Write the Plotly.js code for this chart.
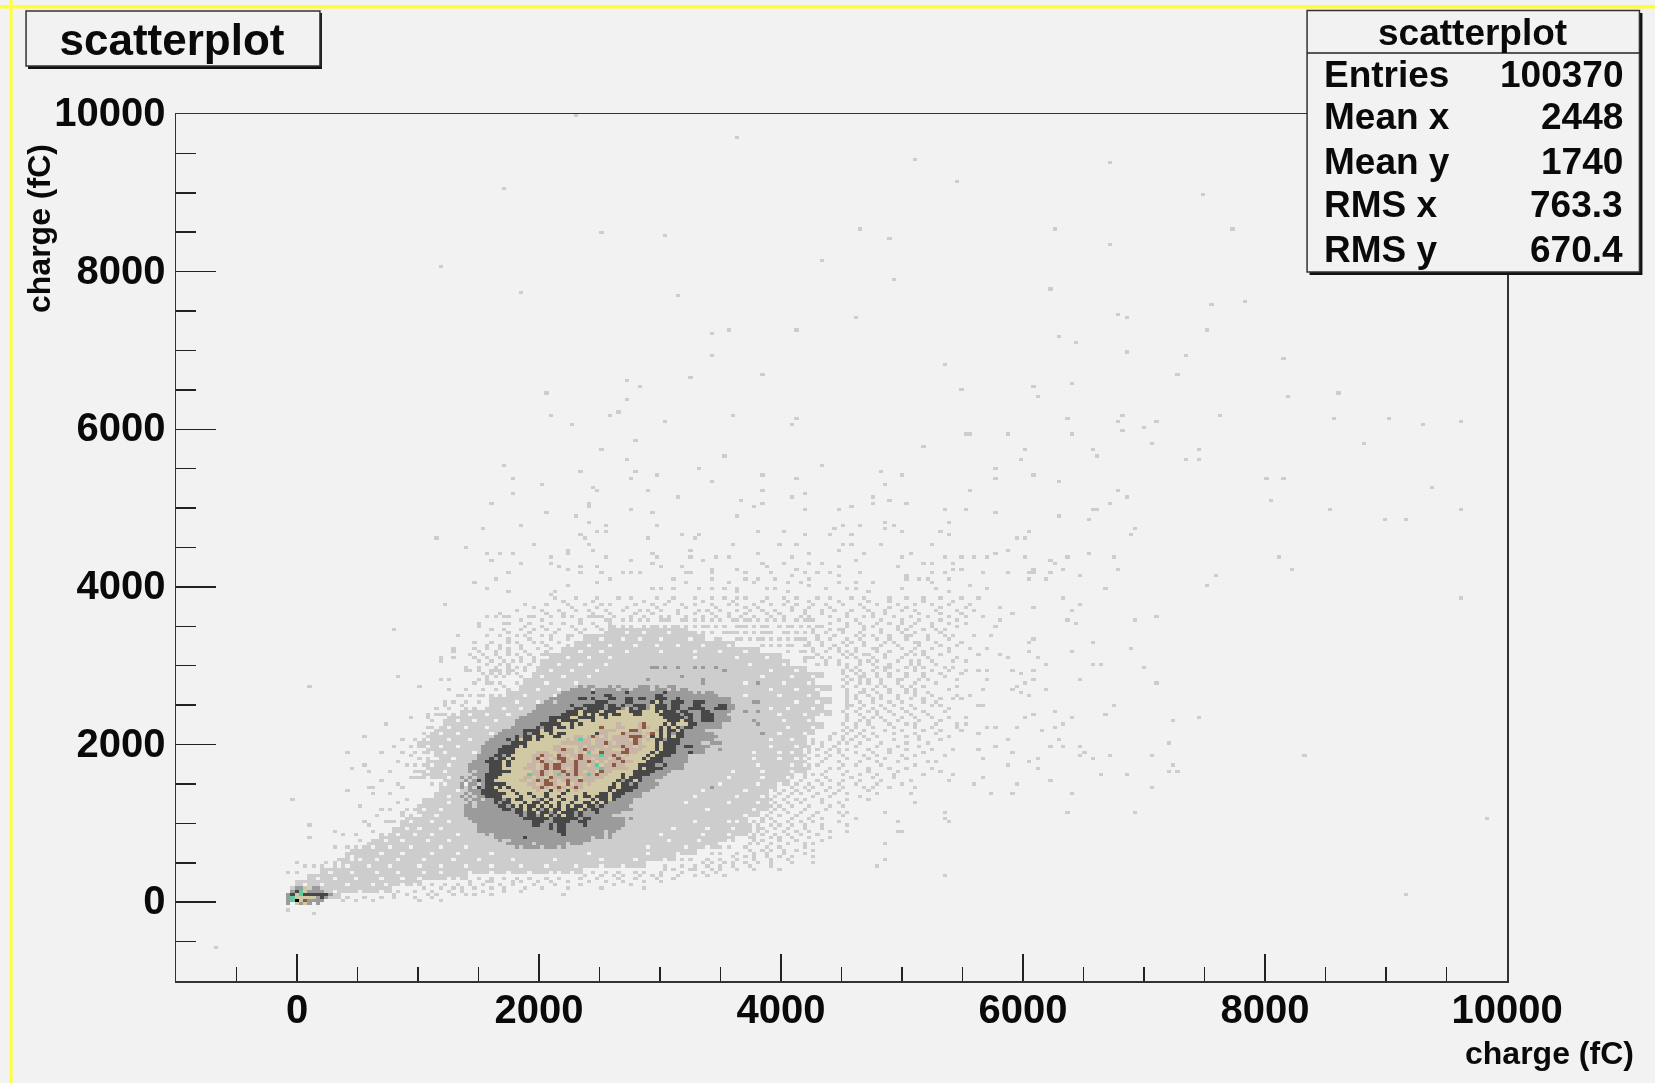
<!DOCTYPE html>
<html>
<head>
<meta charset="utf-8">
<script src="https://cdn.plot.ly/plotly-3.0.1.min.js"></script>
<style>html,body{margin:0;padding:0;background:#f2f2f2}#c{width:1655px;height:1083px;filter:blur(0.5px)}</style>
</head>
<body>
<div id="c"></div>
<script>
// ---- text ----
const chartTitle = 'scatterplot';
const axisTitle = 'charge (fC)';
const statLabels = ['Entries', 'Mean x', 'Mean y', 'RMS x', 'RMS y'];
const statValues = ['100370', '2448', '1740', '763.3', '670.4'];
const levelColors = ['rgba(0,0,0,0)', '#cdcdcd', '#9b9b9b', '#474747', '#d0c9a3', '#c9b5a6', '#8e5a47', '#5fc9a2', '#000000'];

// ---- solid body of the lightest band: [y, xLeft, xRight] ----
const lightRows = [
[40,-70,340],[120,-55,770],[200,10,1015],[280,110,1400],[360,220,2340],[440,380,2850],[520,470,3100],[600,490,3300],
[680,576,3450],[760,690,3600],[840,800,3690],[920,880,3750],[1000,910,3690],[1080,1000,3800],[1160,1020,3880],[1240,1060,3880],
[1320,1150,3880],[1400,1200,3950],[1480,1210,4050],[1560,1044,4100],[1640,1070,4150],[1720,1070,4155],[1800,1150,4155],[1880,1070,4170],
[1960,1044,4200],[2040,1070,4210],[2120,1150,4260],[2200,1210,4350],[2280,1265,4280],[2360,1350,4400],[2440,1620,4330],[2520,1650,4420],
[2600,1730,4300],[2680,1840,4400],[2760,1900,4280],[2840,1950,4350],[2920,1990,4200],[3000,2035,4050],[3080,2100,3980],[3160,2200,3800],
[3240,2290,3600],[3320,2370,3350],[3400,2600,3200]
];

// ---- empty cells inside the light band: [y, [x...]] ----
const lightHoles = [
[3400,[2720,2880,3090]],[3320,[2520,2690,2840,3010,3240]],[3240,[2420,2600,2780,2960,3150,3340,3560]],
[3160,[2330,2510,2730,3000,3290,3490,3700]],[3080,[2230,2400,2590,3300,3620,3880]],[3000,[2170,2340,2560,3750,4010]],
[2920,[2100,2270,2480,3900,4120]],[2840,[2040,2190,2400,3850,4100,4280]],
[2780,[2050,2310,3700,4020,4220]],[2700,[2000,2180,3900,4130,4290]],[2620,[1900,2120,3690,4000,4220]],
[2540,[1800,1980,3760,4120,4310]],[2460,[1700,1860,3900,4060,4250]],[2380,[1420,1580,1750,3990,4180,4350]],
[2300,[1320,1480,1650,4020,4230]],[2220,[1260,1400,1560,4050,4280]],[2140,[1200,1330,1620,3980,4200]],
[2060,[1090,1250,1420,3900,4080]],[1980,[1090,1190,1340,3930,4130]],[1900,[1100,1230,1450,3780,4000,4100]],
[1820,[1160,1290,3780,3990,4120]],[1740,[1110,1260,3800,4090]],[1660,[1090,1220,3600,3850,4090]],[1580,[1080,1250,3550,3850,4060]],
[1500,[1230,1380,3500,3800,3980]],[1420,[1310,3340,3700,3900]],[1340,[1260,3300,3650,3830]],[1260,[1260,3200,3560,3820]],
[1180,[1030,1200,3400,3770]],[1100,[1020,1160,3700]],[1020,[950,1100,1260,3300,3550,3640]],[940,[900,1020,1180,3100,3380,3600]],
[860,[820,960,1130,1320,3000,3350,3580]],[780,[720,880,1070,1260,3080,3330,3560]],[700,[610,770,940,1180,1400,2900,3200,3400]],
[620,[520,700,880,1120,1340,1620,2420,2900,3150]],[540,[520,660,830,1060,1300,1510,1780,2130,2500,2800,3040]],
[460,[430,590,780,1000,1180,1380,1620,1840,2050,2290,2520,2700]],[380,[280,440,660,840,1040,1200,1430,1600,1750,1930,2090,2180,2280]],
[300,[170,320,500,710,880,1020,1240,1310]],[220,[60,200,430,620,740,880,960]],[140,[40,180,310,520,690]]
];

// ---- dense speckle around the light band: [y, [x...]] ----
const lightSpeckle = [
[3860,[2120,2310,2490,2640,2770,2960,3110,3290,3410,3530,3640,3720,3890,4010,4110,4300,4420,4570,4700,4880,5020,5160,5320,5500,5640]],
[3780,[1900,2060,2240,2380,2510,2600,2790,2930,3040,3170,3280,3430,3560,3650,3790,3900,4030,4140,4280,4360,4520,4650,4800,4950,5090,5230,5390,5570]],
[3700,[1830,2010,2170,2320,2400,2560,2690,2820,2900,3020,3150,3310,3390,3500,3620,3740,3850,3960,4080,4190,4320,4450,4590,4710,4860,5000,5100,5280,5460,5610]],
[3620,[1750,1950,2110,2280,2420,2500,2630,2750,2860,3000,3090,3220,3340,3470,3580,3660,3790,3920,4020,4150,4240,4410,4530,4680,4770,4940,5060,5210,5370,5520]],
[3600,[1570,1720,1910,2080,2210,2260,2430,2490]],
[3560,[2600,2750,2830,3020,3080,3220,3370,3500,3590,3700,3800,3960,4120,4230]],
[3550,[4420,4560,4640,4780,4900,5010,5100,5230,5400,5520]],
[3520,[1500,1700,1760,1930,2100,2200,2340,2450,2580]],
[3480,[2580,2690,2880,2980,3040,3150,3290,3400,3450,3620,3760,3880,4040,4160,4300]],
[3470,[4250,4400,4480,4520,4700,4830,4950,5020,5180,5290,5350]],
[3440,[1620,1700,1850,1960,2050,2170,2310,2390,2510]],
[3400,[3240,3350,3520,3600,3700,3840,3920,4070,4190]],
[3390,[4300,4450,4610,4670,4750,4880,5020,5060,5210,5340,5410,5600]],
[3360,[1320,1560,1680,1800,1880,2020,2110,2220,2280,2480,2570]],
[3320,[3470,3630,3740,3860,3990,4120,4210]],
[3310,[4220,4330,4500,4580,4700,4860,4930,5110,5150,5280,5480]],
[3280,[1470,1620,1730,1810,1950,2030,2160]],
[3240,[3830,3920,4040,4180]],
[3230,[4260,4400,4470,4620,4760,4800,5000,5090,5240,5400,5560]],
[3200,[1280,1460,1570,1680,1760,1860,2000,2100]],
[3160,[4050,4150]],
[3150,[4300,4520,4590,4680,4720,4870,5030,5120,5190,5330]],
[3120,[1430,1530,1640,1750,1800,1910,2010,2060]],
[3080,[4240]],
[3070,[4200,4380,4460,4640,4710,4800,4950,5080,5140,5250,5420,5530]],
[3040,[1180,1500,1620,1700,1790,1850,1950]],
[2990,[4560,4620,4800,4870,4910,5020,5110,5190,5340,5410]],
[2960,[1390,1510,1640,1740,1830,1900]],
[2910,[4520,4610,4700,4780,4910,5050,5190,5300,5480]],
[2880,[1530,1600,1660,1760,1800]],
[2830,[4520,4580,4650,4710,4840,4950,5000,5130,5210,5450]],
[2750,[4520,4610,4780,4860,5010,5060,5160,5440]],
[2670,[4530,4640,4680,4790,4900,5020,5090,5220]],
[2590,[4540,4600,4740,4830,4950,5060,5170,5330,5420]],
[2510,[4530,4590,4680,4810,4920,5070,5240,5320]],
[2430,[4520,4610,4720,4790,4880,5020,5190,5340]],
[2350,[4530,4680,4750,4840,5010,5110,5260,5390,5520]],
[2270,[4520,4610,4730,4890,5040,5100,5270,5440,5530]],
[2190,[4500,4580,4700,4850,5000,5170,5310,5500]],
[2110,[4410,4520,4610,4680,4790,5050,5150,5380]],
[2030,[4250,4330,4470,4560,4640,4840,5020,5210]],
[1950,[4230,4300,4400,4470,4530,4720,4890,5040,5250,5420]],
[1870,[4200,4290,4420,4500,4680,4800,4990,5120,5360]],
[1790,[4200,4340,4480,4660,4780,4950,5200,5280]],
[1710,[4180,4240,4400,4470,4720,4890,5020,5240]],
[1630,[4180,4260,4320,4500,4650,4790,4940,5180,5420]],
[1550,[4150,4300,4420,4510,4660,4830,5080,5380]],
[1470,[4100,4180,4260,4390,4520,4690,4880,5090]],
[1390,[4000,4090,4170,4310,4450,4560,4780,5060]],
[1310,[3930,4020,4110,4200,4340,4530,4730]],
[1230,[3920,3990,4090,4240,4390,4510]],
[1150,[3920,4060,4150,4300,4470,4560,4870]],
[1070,[3840,3930,4080,4230,4350,4600]],
[990,[3730,3800,3900,3980,4090,4200,4320,4560]],
[910,[3730,3820,3880,4010,4110,4240,4420,4560]],
[830,[3730,3790,3900,4000,4100,4230,4390]],
[750,[3730,3800,3910,4060,4180,4280]],
[670,[3730,3830,3920,4030,4140,4250]],
[590,[3600,3700,3790,3870,3990,4090,4250]],
[510,[3340,3440,3520,3600,3690,3800,3930,4100,4250]],
[430,[3030,3120,3240,3300,3420,3510,3620,3780,3980]],
[350,[2380,2500,2610,2700,2820,2930,3020,3130,3270,3400,3540]],
[270,[1440,1560,1620,1780,1850,1990,2110,2230,2400,2560,2700,2850,3010]],
[190,[1050,1180,1290,1370,1480,1590,1720,1880,2040,2220,2500,2880]],
[110,[800,920,1080,1160,1300,1410,1480,1620,2200]],
[30,[390,480,640,1000,1200]]
];

// ---- the speckle rows that lie between the rows above: [y, [x...]] ----
const lightSpeckleBetween = [
[3820,[2210,2440,2850,3090,3370,3600,3830,4070,4240,4490,4730,4910,5170,5410]],
[3740,[1950,2280,2470,2740,2970,3210,3460,3690,3810,4100,4230,4410,4680,4890,5050,5330,5520]],
[3660,[1680,2060,2210,2440,2580,2790,2940,3130,3270,3420,3550,3720,3880,4000,4200,4330,4560,4740,4850,5130,5300,5480]],
[3580,[1840,2020,2340,2560,2700,2910,3050,3180,3300,3440,3640,3750,3890,4010,4190,4280,4470,4610,4820,4990,5150,5320,5460]],
[3500,[1880,2040,2260,2490,2630,2770,2930,3100,3220,3340,3530,3660,3710,3840,3980,4090,4220,4350,4540,4670,4760,4970,5060,5250,5450]],
[3420,[1760,1930,2140,2350,2540,2670,3280,3420,3570,3650,3760,3890,4010,4110,4260,4360,4500,4640,4830,4990,5120,5300]],
[3340,[1750,1920,2090,2240,3510,3680,3800,3930,4050,4160,4290,4420,4540,4650,4790,4900,5050,5200,5370]],
[3260,[1570,1680,1860,2060,2220,3830,3990,4090,4230,4340,4430,4560,4690,4840,4960,5130,5310,5450]],
[3180,[1500,1630,1730,1900,2050,4040,4200,4270,4380,4460,4550,4630,4780,4910,5080,5160,5380]],
[3100,[1480,1580,1690,1850,1960,4200,4250,4340,4420,4530,4610,4760,4850,5000,5210,5440]],
[3020,[1560,1680,1760,1920,4300,4380,4480,4540,4660,4750,4890,5060,5140,5290]],
[2940,[1440,1590,1690,1780,1880,4520,4570,4660,4740,4860,4980,5120,5260,5400]],
[2860,[1560,1630,1720,1850,4540,4640,4690,4800,4880,5030,5160,5350]],
[2780,[1480,1580,1680,1800,4550,4650,4730,4810,4960,5100,5270]],
[2700,[1400,1530,1640,1760,4560,4680,4750,4900,5040,5120,5380]],
[2620,[1370,1520,1600,1690,4540,4620,4710,4820,4980,5100,5240,5470]],
[2540,[1290,1400,1510,1590,4530,4660,4770,4890,5000,5190,5290]],
[2460,[1240,1380,1470,1570,4540,4640,4750,4850,4990,5120,5400]],
[2380,[1190,1290,4550,4660,4780,4930,5070,5220]],
[2300,[1130,1210,4540,4640,4710,4850,4970,5150,5300]],
[2220,[1080,1180,4530,4620,4760,4920,5090,5240,5450]],
[2140,[1040,1100,4440,4540,4640,4740,4930,5100,5280]],
[2060,[960,1030,4270,4400,4500,4590,4720,4920,5130,5300]],
[1980,[930,1000,4240,4350,4430,4600,4780,4950,5140]],
[1900,[970,1030,4220,4370,4460,4610,4750,4910,5180]],
[1820,[1010,1080,4240,4380,4540,4720,4860,5050]],
[1740,[990,1040,4220,4310,4510,4600,4830,5100]],
[1660,[960,1030,4210,4380,4540,4710,4980,5310]],
[1580,[940,1010,4200,4360,4580,4740,4920]],
[1500,[1120,1170,4120,4220,4330,4460,4620,4800,5010]],
[1420,[1170,1240,4010,4140,4230,4370,4490,4710]],
[1340,[1150,1200,3960,4060,4250,4420,4650]],
[1260,[1110,1190,3940,4050,4160,4330,4470]],
[1180,[900,960,3950,4020,4210,4380]],
[1100,[880,950,3880,4000,4110,4280,4520]],
[1020,[800,870,3770,3860,3940,4050,4150,4260,4490]],
[940,[790,850,3800,3850,3950,4060,4180,4330]],
[860,[700,760,3760,3840,3960,4060,4160,4310]],
[780,[620,660,3760,3850,3980,4120,4340]],
[700,[480,540,3500,3580,3720,3870,4000,4200]],
[620,[420,460,3420,3500,3640,3760,3880,4030,4180]],
[540,[390,430,3170,3260,3380,3500,3650,3760,3900,4060]],
[460,[320,3050,3180,3290,3380,3490,3590,3740,3900]],
[380,[190,2430,2560,2650,2790,2880,3010,3190,3340,3470]],
[300,[1510,1620,1700,1830,1920,2060,2170,2340,2480,2650,2790,2960,3100]],
[220,[1100,1220,1330,1440,1540,1660,1780,1960,2130,2350,2620,2770]],
[150,[830,980,1110,1240,1360,1530,1700,1860]],
[70,[360,430,560,690,800,960,1110]]
];

// ---- isolated single cells, read one by one: [x, y] ----
const isolatedCells = [
[3626,9688],[5096,9417],[5460,9134],[1727,9062],[2529,8509],[3038,8471],[4651,8551],[4907,8437],[1173,8070],[4328,8133],[4948,7884],[1866,7736],[3155,7698],[4616,7406],[3411,7216],[3560,7246],[4138,7246],[3443,6925],[5352,6811],[3851,6696],[3263,6663],[2710,6633],[2817,6549],[2049,6477],[5501,6506],[2710,6363],
[6731,9390],[7472,8965],[7716,8520],[6251,8520],[6731,8320],
[6228,7770],[7550,7584],[7848,7614],[6782,7466],[6856,7436],[7517,7246],[6311,7174],[6451,7111],[6856,6988],[7335,6925],[8145,6883],[7294,6697],[6418,6591],[6080,6549],[6121,6405],[8178,6405],[8616,6448],[6823,6173],[6782,6110],[6377,6148],[7112,6110],[7625,6173],[6997,6029],[6823,5966],[6418,5924],[5865,5924],[8575,6148],[9021,6148],[9318,6072],[9607,6110],[8831,5839],[7079,5810],[6014,5738],[6567,5738],[6600,5666],[7443,5738],[5972,5632],[7335,5632],[7443,5632],[6080,5404],[6311,5332],[7996,5362],[8145,5362],[9384,5256],[6782,5214],[6856,5142],[8063,5112],[6708,5070],[6567,4994],[6600,4965],[8542,4994],[9607,4965],[6311,4884],[6526,4850],[8980,4850],[9170,4850],[6931,4745],[6889,4673],[6047,4703],[6014,4639],[5939,4601],[5865,4453],[6526,4411],[6014,4373],[6377,4373],[6741,4373],[8104,4373],[6228,4339],[6270,4310],[6080,4225],[6344,4225],[6782,4225],[8211,4225],[5865,4196],[6228,4196],[6047,4166],[6082,4166],[6047,4082],[6195,4082],[6484,4124],[7591,4124],[7517,4010],[6675,3980],
[2090,6177],[2646,6211],[2596,6168],[3038,6113],[3595,6177],[4138,6147],[4107,6071],[2273,6071],[5561,5957],[5529,5923],[2786,5843],[2526,5737],[3522,5661],[5166,5780],[2710,5636],[1727,5552],[3332,5509],[4328,5552],[2346,5446],[2786,5446],[2969,5404],[4840,5446],[4989,5404],[5757,5501],[5757,5361],[1793,5361],[2748,5361],[3848,5404],[4138,5361],[2021,5298],[3411,5332],[4872,5298],[2457,5260],[2495,5218],[2912,5218],[3848,5218],[5555,5218],[1793,5171],[4075,5150],[4180,5171],[1610,5070],[2416,5070],[2416,5002],[3143,5133],[3664,5112],[3838,5045],[3791,5007],[4764,5121],[4764,5070],[4910,5112],[5024,5070],[4180,4964],[4581,5028],[4477,4994],[2748,4994],[5355,4994],[5536,4964],[2046,4922],[2931,4922],[5757,4922],[2305,4888],[3626,4888],[1837,4787],[2969,4787],[2416,4816],[2561,4787],[1540,4745],[2495,4702],[2561,4702],[3816,4702],[4028,4702],[4432,4745],[4508,4787],[4660,4795],[4872,4812],[4872,4745],[4948,4787],[4989,4702],[5324,4702],[5393,4812],[5393,4677],[1135,4601],[2349,4677],[2368,4601],[2416,4559],[2899,4601],[3190,4643],[3295,4601],[3332,4677],[4211,4677],[4391,4643],[4587,4677],[4508,4559],[4581,4559],[1942,4559],[3595,4559],[4840,4559],[5245,4559],[3990,4521],[4138,4521],
[1388,4487],[1578,4415],[1685,4415],[1793,4415],[1610,4339],[1837,4309],[2235,4466],[2235,4415],[2457,4453],[2084,4373],[2084,4309],[2156,4267],[2346,4267],[2235,4225],[2346,4191],[2495,4267],[2561,4373],[2748,4339],[2931,4415],[2969,4373],[2931,4309],[3013,4267],[3190,4267],[3263,4453],[3263,4373],[3370,4339],[3475,4373],[3560,4373],[3816,4415],[3838,4297],[3876,4254],[4028,4309],[4107,4373],[4249,4415],[4249,4309],[4328,4309],[4477,4453],[4477,4267],[4612,4347],[4692,4415],[4951,4267],[4986,4373],[5055,4415],[5166,4309],[5245,4309],[5355,4373],[5425,4309],[5498,4373],[5609,4373],[5687,4373],[5757,4415],
[1761,4162],[1641,4081],[1461,4043],[1578,3976],[1761,3938],[2115,3925],[2084,3895],[2235,4009],[2526,4162],[2678,4162],[2748,4162],[2817,4191],[2574,4081],[2495,4043],[3206,4162],[3269,4191],[3443,4225],[3411,4162],[3626,4225],[3696,4191],[3917,4178],[4138,4225],[4107,4149],[4202,4191],[4287,4162],[4391,4162],[4477,4128],[4477,4043],[4644,4162],[4612,4043],[5024,4149],[5024,4081],[5128,4081],[5245,4191],[5355,4178],[5435,4212],[5498,4225],[5656,4191],[5213,4081],[5393,4081],[5251,4043],[5292,3976],[4770,4043],[3111,4081],[3222,4043],[3443,4081],[3560,4043],[3712,4081],[3775,4043],[3816,4081],[3965,4081],[4044,4043],[4154,4043],[4249,4081],[2937,3976],[3016,3976],[3120,3976],[3332,3976],[3411,3976],[3532,3976],[3633,3976],[3648,3938],[3886,3993],[3949,3976],[4060,3938],[4249,4001],[4360,3976],[4543,3976],[4622,3976],[4992,3976],[5577,4009],[5687,3976],[5393,3938],[4707,3938],
[6317,3874],[6455,3790],[5821,3748],[6083,3748],[6413,3705],[5904,3651],[7116,3600],[6931,3566],[6372,3566],[6427,3536],[5821,3566],[5766,3515],[5656,3600],[5752,3376],[6083,3346],[6050,3283],[6579,3317],[6895,3232],[6413,3199],[6050,3199],[5711,3232],[5615,3127],[5808,3127],[5863,3084],[6124,3084],[6193,3017],[6565,3017],[6634,3017],[6997,2987],[6083,2945],[5904,2924],[5973,2903],[5697,2945],[5615,2945],[5532,2945],[6083,2839],[6014,2797],[6488,2839],[7116,2797],[5717,2839],[5959,2755],[5684,2713],[5904,2691],[6193,2691],[5987,2649],[6042,2615],[5573,2615],[5505,2586],[6744,2514],[5615,2514],[5684,2480],[6083,2387],[6270,2430],[6675,2387],[6014,2354],[6413,2354],[7446,2328],[7226,2286],[6345,2244],[6270,2218],[5711,2218],[5788,2218],[5937,2218],[6160,2184],[5648,2134],[6309,2066],[5863,2066],[7190,2037],[6226,1994],[6345,1994],[6455,1994],[5758,1994],[5648,1952],[6524,1910],[5904,1910],[6455,1847],[6708,1847],[7080,1847],[5684,1804],[6124,1804],[6565,1804],[6050,1762],[5863,1732],[7226,1732],[6124,1699],[7190,1656],[7262,1656],[6634,1618],[6860,1618],[5684,1576],[6226,1542],[5937,1517],[5609,1517],[7080,1471],[6413,1399],[5752,1369],[5904,1369],[6372,1137],[6931,1137],[5340,1120],[5340,1060],[5010,900],[4950,880],[5400,1000],[4860,730],[4780,470],[4870,530],[5360,350],[4960,1020],[5120,1250],[4760,1440],
[1237,3791],[810,3461],[1645,3601],[1499,3503],[1320,3381],[1278,3178],[1430,3127],[1176,3085],[1278,3085],[1388,2925],[843,2870],[108,2756],[1022,2756],[1176,2832],[1245,2819],[1264,2713],[1320,2629],[1223,2502],[1154,2460],[1072,2375],[948,2333],[727,2240],[548,2101],[810,1995],[879,2067],[686,1911],[403,1881],[879,1889],[989,1911],[438,1699],[549,1733],[581,1657],[769,1657],[838,1763],[920,1720],[962,1742],[694,1551],[824,1488],[581,1467],[617,1446],[419,1425],[617,1370],[769,1361],[-38,1285],[513,1213],[694,1180],[769,1180],[659,1095],[727,1036],[549,1036],[108,994],[590,960],[323,909],[397,875],[108,804],[535,770],[323,698],[411,706],[254,516],[67,466],[-2,508],[-16,390],[-57,390],[149,453],[218,453],[342,559],[452,664],
[1512,2925],[1636,2946],[1733,2946],[1568,2820],[1620,2760],[1700,2720],[1402,2713],[1485,2819],[1430,2608],[1485,2608],[1623,2566],[1691,2587],[1347,2481],[1430,2418],[1154,2375],[1237,2375],[1072,2333],[1209,2523],[1127,2228],[1017,2037],[1060,2140],[950,1850],[1000,1640],[960,1560],[870,1440],[900,1310],[1100,1300],[830,1250],[860,1120],[760,1010],[640,880],[500,840],[610,650],[420,560],[320,510],[520,600],
[-660,-600],[-90,-110],[150,-160],[2310,9990],
[9160,100],[8330,1850],[9830,1050],[9610,3850]
];

// ---- bins of the densest region, one text row per bin row, top to bottom ----
// . keep  m mid grey  d dark grey  t tan  p pink  b brown  g teal  k black
const coreLeftX = 1347;
const coreTopY = 2720;
const coreMap = [
"............................m.mm...m.m....mmm.m..mm...............",
"..........................mmmmm.mmmmm.mm.mmmm.mmm.m.mm............",
"........................mmmmmmmdmmmmmmmdmmmmmmmmdmmmmmm.m.mm......",
".......................mmmmmmmmmmmddmmmmmmmmmmddmmmmmmmmmmmmm.....",
".....................mmmmmmmddmdmmmddmmddmddmmdddmmdmmmmmmmmmmmm..",
"....................mm.mmmmmmmmmdddmmmmddmmmmdtdmmdddmmdddmmmmmm..",
"..................mmmmmmmmdmmdddddmddmdmmdddmtdddmddmmmddmmmmddmm.",
"..................mmmmmmmmmddmddddmdddmtdmddmtdddmddmmddddmmdddmm.",
".................mmmmmmmmdddtddddtdddtttdddtttdtdddmddmmmddmmmmm..",
"................mmmmmmmmddddtdtdtddtddtttddttttdddddmddmmdddmmm...",
"..............mmmmmmmdddddttddddttdtttttttttttttdddddmdmmdddmmmm..",
".............mmmmmmmmddtddddtttdtttttttttttttttttdddtddmmdddmmmm..",
".............mmmmmmdddddttdtdttttttttpttttpbttttdtdtttddmmmmmm....",
"............mmmmmmdmddtddtdttttttbtttpptttpbpttdtdtdmddmmmmmmm....",
"..........mmmmmddddtddtttttttttttpppptttbbptttpdtddtdmmmmm........",
".........mmmmmmdmddttdtddtttttttdpptttbpppptpbtdtdmddmmmmmmm......",
"........mmmmmdmddtddttddtttpptpbptptppppbbbptdtdtdtddmmmmmmmm.....",
".......mmmmdmdtddtdttttttptpgpptppptpppptbptptddmdddmmmmmmmm......",
"......mmmmmmddddttttttttppppppptppbptppppbptttdtddddmmmmm..mmm....",
".....mmmmmddddtdttttttppttttptpppptpppbpptppttdtdddmmddmmmm.......",
".....mmmmddddtttttttttppbpptpbpptpppttpbppptttdtdddmmmmmmm...m....",
".....mmmmddddtttttpppttpppptptgttbppppbbpptttdtddddmmmdmmm........",
"....mmmmddmdtttttppbpptbptppbppppgppbptpttttdtddddmmmm............",
"....mmmdmddtdttttpbtptpbbptpbpptppptpbpttttdtdddmmmmmm............",
"...mmmddddtdtttttppbpptpbppbppbptptpppbpptttddddmmmmmm............",
"..mmmmmdddtdttttpptpbpbbpppbpptpgtppbpptttddddmmdmmmm.............",
"..mmmmmdddtttttppptpbpbbptpbpppppgppppppttdtddddmmmmm.............",
"..m.mmmdddddtttttppbptppbppbptpptbpptttttdddddmmmm................",
"...mmmddddttttttgppbptpgpbpbppgpbpptttdttddddmmmm.................",
"m.m.mmdddttttttpptpptbpppppptpppppttttdtdddmmmmm..................",
".m.mdmddttttttpptpbpbpptpbppbppptttttdmddtdmmm....................",
"m.mm.mdddddtttttpptpbbpttbtpptptttttdtddmdmmmmm...................",
"m.m.dmddtdtdtttttppbptpbptpbpttttttddtddddmmmm....................",
"..mmmddddtttdtttttpttdtptdtptttttttdtddddmmmm.....................",
".m.mmddddddttdttdtttdtttdttttdtttddtdddmmmm.......................",
"m.m.mmddddttttdttdttdttdtttdtddtdddtddmmmmm.......................",
".m.mm.mmddmdtddtttmdtdttdttdtttdtddtdmmmm.........................",
"..m.mmmmdmddtttdtddtdttdttdttddtdtdmmmmmm.........................",
".mm.mmmmmddmdtdtddtdtdtdtdtddtddmdmmmmmm..........................",
".mmmmmmmmmddmddtdtdmdtddtdddtdmddmmmmmmmm.........................",
".mmmmmmmmmmmmddmddtddmdtdddmdmmmdmmmmm............................",
".mmmmmmmmmmmmmdmddmdtdmdtddmdmmmmmmm..............................",
"..mmmmmmmmmmmmmddddddmddddddmddmmmmmmmm.m.........................",
"...mmmmmmmmmmmmmmdddmmddddmmddmmmmmmmmm...........................",
"....mmmmmmmmmmmmmddmmdmddmmmmdmmmmmmmmm...........................",
"....mmmmmmmmmmmmmmmmmdmddmmmmmmmmmmmmm............................",
"....mmmmmmmmmmmmmmmmmmmddmmmmmmmmm.mm.............................",
"......m.mmmmmmmmmmmmmmmmdmmmmmmmmm.m..............................",
"........mmmmmmmdmmmmmmmmmmmmmmm.mm.m..............................",
".........m..mmmmmmmmmmmmmmmmmmm...................................",
"...........mmmmmm.mmmmmmm.mmm.....................................",
".............m.mmmm.mmm.m........................................."
];

// ---- the small peak at the origin, same legend ----
const originLeftX = -85;
const originTopY = 170;
const originMap = [
"..mmt.mm..",
".mdgtmmmm.",
"mdtgddddddm",
"mgtttttmdm",
"mgktbmmmm.",
"m.tmtm.m.."
];

// ---- stray mid cells outside the core: [x, y, level] ----
const strayCells = [
[3370,2979,2],[3522,2945,2],[3370,2818,2],[3816,2797,2],[3577,2501,2],[3615,2501,2],[3577,2460,2],[3701,2429,2],[3816,2429,2],
[3783,2290,2],[3816,2248,2],[3852,2142,2],[3811,2552,2],[3760,2552,2],[3412,1466,2],[2944,2987,2],[2985,2987,2],[3027,2987,2],
[2889,2818,2],[3165,2840,2],[3357,2797,2],[3523,2945,2],[3812,2797,2],[3150,2987,2],[3300,2987,2],[3460,2960,2]
];

// ---- bin grid and paint order ----
const binW = 35, binH = 40, xStart = -1000, yStart = -1000, nCols = 315, nRows = 275;
const z = [];
for (let r = 0; r < nRows; r++) z.push(new Array(nCols).fill(0));
const colOf = x => Math.floor((x - xStart) / binW);
const rowOf = y => Math.floor((y - yStart) / binH);
const put = (x, y, v) => { const c = colOf(x), r = rowOf(y); if (r >= 0 && r < nRows && c >= 0 && c < nCols) z[r][c] = v; };

lightRows.forEach(([y, a, b]) => {
  for (let c = colOf(a); c <= colOf(b); c++) { z[rowOf(y)][c] = 1; z[rowOf(y + binH)][c] = 1; }
});
lightHoles.forEach(([y, xs]) => xs.forEach(x => put(x, y, 0)));
lightSpeckle.forEach(([y, xs]) => xs.forEach(x => put(x, y, 1)));
lightSpeckleBetween.forEach(([y, xs]) => xs.forEach(x => put(x, y, 1)));
isolatedCells.forEach(([x, y]) => put(x, y, 1));
strayCells.forEach(([x, y, v]) => put(x, y, v));
const codes = {m: 2, d: 3, t: 4, p: 5, b: 6, g: 7, k: 8};
const paintMap = (map, left, top) => map.forEach((line, i) => {
  for (let j = 0; j < line.length; j++) if (codes[line[j]]) put(left + j * binW, top - i * binH, codes[line[j]]);
});
paintMap(coreMap, coreLeftX, coreTopY);
paintMap(originMap, originLeftX, originTopY);

const n = levelColors.length;
const colorscale = [];
levelColors.forEach((col, i) => { colorscale.push([i / n, col]); colorscale.push([(i + 1) / n, col]); });

// ---- page geometry ----
const W = 1655, H = 1083, L = 176, R = 1507.5, T = 114, B = 981.5;
const px = v => (v - L) / (R - L);
const py = v => (B - v) / (B - T);
const box = (x0, y0, x1, y1, fill, line, lw) => ({type: 'rect', xref: 'paper', yref: 'paper', x0: px(x0), x1: px(x1), y0: py(y0), y1: py(y1),
  fillcolor: fill, line: {color: line, width: lw}, layer: 'above'});
const font = 'Liberation Sans, Arial, sans-serif';
const ink = '#0a0a0a';
const label = (text, x, y, size, anchor, extra) => Object.assign({text, xref: 'paper', yref: 'paper', x: px(x), y: py(y), xanchor: anchor, yanchor: 'middle',
  showarrow: false, font: {family: font, size, color: ink, weight: 700}}, extra || {});

const annotations = [
  label(chartTitle, 1473, 32, 37, 'center'),
  label(axisTitle, 1637, 1054, 32, 'right'),
  label(axisTitle, 39, 229, 32, 'center', {textangle: -90})
];
const statY = [74, 117, 162, 205, 250];
statLabels.forEach((s, i) => annotations.push(label(s, 1322, statY[i], 37, 'left')));
statValues.forEach((s, i) => annotations.push(label(s, 1626, statY[i], 37, 'right')));

const shapes = [
  box(9.5, -5, 12.5, H + 5, '#ffff33', '#ffff33', 0),
  box(-5, 5, W + 5, 8.5, '#ffff33', '#ffff33', 0),
  box(28, 13, 322, 69, '#111', '#111', 0),
  box(26, 11, 320, 66, '#f2f2f2', '#333', 1.5),
  box(1310, 13, 1643, 275, '#111', '#111', 0),
  box(1307.5, 10.5, 1640, 272, '#f2f2f2', '#333', 1.5),
  {type: 'line', xref: 'paper', yref: 'paper', x0: px(1307.5), x1: px(1640), y0: py(53), y1: py(53), line: {color: '#222', width: 1.5}, layer: 'above'}
];

const axisBase = {
  range: [-1000, 10000], tick0: 0, dtick: 2000, tickformat: 'd', ticks: 'inside', tickwidth: 1.5, tickcolor: '#222',
  showline: true, linecolor: '#333', linewidth: 1.5, mirror: true, showgrid: false, zeroline: false,
  tickfont: {family: font, size: 40, color: ink, weight: 700}
};

Plotly.newPlot('c', [{
  type: 'heatmap', z, x0: xStart + binW / 2, dx: binW, y0: yStart + binH / 2, dy: binH,
  zmin: 0, zmax: n, colorscale, showscale: false, zsmooth: false, hoverinfo: 'skip'
}], {
  width: W, height: H, paper_bgcolor: '#f2f2f2', plot_bgcolor: '#f2f2f2',
  margin: {l: L, r: W - R, t: T, b: H - B, pad: 0},
  title: {text: chartTitle, x: 172 / W, xref: 'container', xanchor: 'center', y: 1 - 40 / H, yref: 'container', yanchor: 'middle', automargin: false,
    font: {family: font, size: 44, color: ink, weight: 700}},
  xaxis: Object.assign({}, axisBase, {ticklen: 27, ticklabelstandoff: -8,
    minor: {dtick: 500, tick0: 0, ticks: 'inside', ticklen: 14, tickwidth: 1.5, tickcolor: '#222', showgrid: false}}),
  yaxis: Object.assign({}, axisBase, {ticklen: 40, ticklabelstandoff: 1, ticklabelshift: -2,
    minor: {dtick: 500, tick0: 0, ticks: 'inside', ticklen: 20, tickwidth: 1.5, tickcolor: '#222', showgrid: false}}),
  shapes, annotations, showlegend: false
}, {displayModeBar: false, staticPlot: true});
</script>
</body>
</html>
